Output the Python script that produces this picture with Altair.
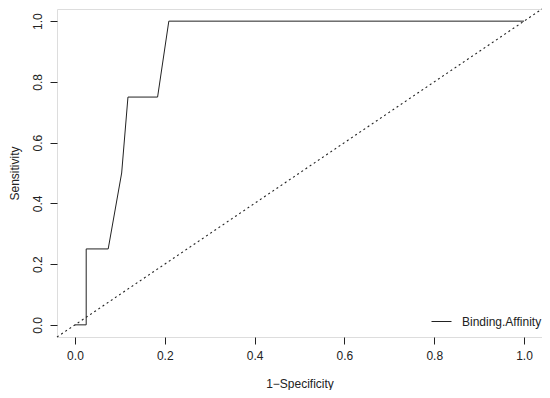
import altair as alt
import pandas as pd

# ROC curve (1-Specificity, Sensitivity)
fpr = [0.0, 0.025, 0.025, 0.074, 0.104, 0.118, 0.184, 0.209, 1.0]
tpr = [0.0, 0.0, 0.25, 0.25, 0.5, 0.75, 0.75, 1.0, 1.0]
series_name = "Binding.Affinity"
# reference diagonal y = x across the full plotting range
diag = [-0.04, 1.04]
ticks = [0.0, 0.2, 0.4, 0.6, 0.8, 1.0]

roc = pd.DataFrame({"x": fpr, "y": tpr, "i": list(range(len(fpr))), "s": series_name})
dg = pd.DataFrame({"x": diag, "y": diag})

FONT = "Liberation Sans"
INK = "#222222"
W, H = 485, 328

xs = alt.Scale(domain=[-0.04, 1.04], nice=False, zero=False)
ys = alt.Scale(domain=[-0.04, 1.04], nice=False, zero=False)

xaxis = alt.Axis(values=ticks, format=".1f", grid=False, domain=False, tickSize=7,
                 tickColor=INK, labelColor=INK, labelFont=FONT, labelFontSize=12,
                 labelPadding=6, title="1\u2212Specificity", titleFont=FONT,
                 titleFontSize=12, titleFontWeight="normal", titleColor=INK,
                 titleX=W / 2, titleY=46, titleBaseline="middle", titleAlign="center")
yaxis = alt.Axis(values=ticks, format=".1f", grid=False, domain=False, tickSize=7,
                 tickColor=INK, labelColor=INK, labelFont=FONT, labelFontSize=12,
                 labelAngle=270, labelAlign="center", labelBaseline="bottom",
                 labelPadding=6, title="Sensitivity", titleFont=FONT, titleFontSize=12,
                 titleFontWeight="normal", titleColor=INK, titleAngle=270,
                 titleX=-48, titleY=H / 2, titleBaseline="top", titleAlign="center")

curve = alt.Chart(roc).mark_line(strokeWidth=1, interpolate="linear").encode(
    x=alt.X("x:Q", scale=xs, axis=xaxis),
    y=alt.Y("y:Q", scale=ys, axis=yaxis),
    order="i:Q",
    stroke=alt.Stroke("s:N", scale=alt.Scale(range=[INK]),
                      legend=alt.Legend(title=None, orient="none", legendX=374, legendY=302,
                                        symbolType="stroke", symbolSize=400,
                                        symbolStrokeWidth=1, labelFont=FONT,
                                        labelFontSize=12, labelColor=INK, labelOffset=10,
                                        padding=0)),
)

diagonal = alt.Chart(dg).mark_line(strokeWidth=1.1, strokeDash=[2, 3], color=INK).encode(
    x=alt.X("x:Q", scale=xs),
    y=alt.Y("y:Q", scale=ys),
)

chart = alt.layer(diagonal, curve).properties(
    width=W, height=H,
    autosize=alt.AutoSizeParams(type="none"),
    padding={"left": 49, "top": 1, "right": 0, "bottom": 53},
).configure_view(stroke=INK, strokeWidth=1).configure(background="white")

chart.save("out.html", embed_options={"renderer": "svg", "actions": False})
